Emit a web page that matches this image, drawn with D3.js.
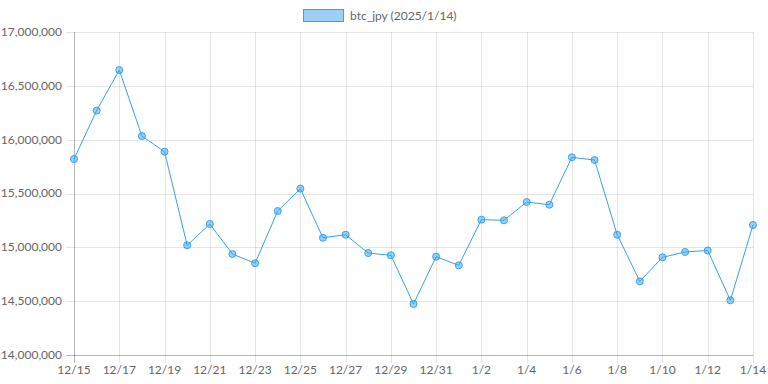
<!DOCTYPE html>
<html>
<head>
<meta charset="utf-8">
<script src="https://cdn.jsdelivr.net/npm/d3@7"></script>
<style>
  body { margin: 0; background: #fff; }
  svg text { font-family: Lato, "Open Sans", sans-serif; }
</style>
</head>
<body>
<div id="chart"></div>
<script>
// data
var dates = ["12/15","12/16","12/17","12/18","12/19","12/20","12/21","12/22","12/23","12/24",
             "12/25","12/26","12/27","12/28","12/29","12/30","12/31","1/1","1/2","1/3",
             "1/4","1/5","1/6","1/7","1/8","1/9","1/10","1/11","1/12","1/13","1/14"];
var prices = [15820000,16270000,16647000,16034000,15888000,15019000,15217000,14938000,14852000,15337000,
              15545000,15089000,15117000,14947000,14926000,14474000,14913000,14833000,15257000,15251000,
              15421000,15396000,15836000,15811000,15117000,14684000,14907000,14957000,14971000,14508000,15207000];
var yTicks = [14000000,14500000,15000000,15500000,16000000,16500000,17000000];
var seriesName = "btc_jpy (2025/1/14)";

var width = 768, height = 384;
var margin = {left:74, right:15, top:32, bottom:29};

var svg = d3.select("#chart").append("svg")
  .attr("width", width)
  .attr("height", height);

var x = d3.scalePoint()
  .domain(dates)
  .range([margin.left, width - margin.right]);

var y = d3.scaleLinear()
  .domain([14000000, 17000000])
  .range([height - margin.bottom, margin.top]);

var fmt = d3.format(",");

// grid lines
var labelDates = dates.filter(function(d, i){ return i % 2 == 0; });

svg.append("g").selectAll("line.hgrid")
  .data(yTicks)
  .enter().append("line")
  .attr("class","hgrid")
  .attr("x1", margin.left - 8)
  .attr("x2", width - margin.right)
  .attr("y1", function(d){ return Math.round(y(d)) + 0.5; })
  .attr("y2", function(d){ return Math.round(y(d)) + 0.5; })
  .attr("stroke", "rgba(0,0,0,0.1)");

svg.append("g").selectAll("line.vgrid")
  .data(labelDates)
  .enter().append("line")
  .attr("class","vgrid")
  .attr("x1", function(d){ return Math.round(x(d)) + 0.5; })
  .attr("x2", function(d){ return Math.round(x(d)) + 0.5; })
  .attr("y1", margin.top)
  .attr("y2", height - margin.bottom + 8)
  .attr("stroke", "rgba(0,0,0,0.1)");

// axis lines
svg.append("line")
  .attr("x1", margin.left + 0.5).attr("x2", margin.left + 0.5)
  .attr("y1", margin.top).attr("y2", height - margin.bottom + 8)
  .attr("stroke", "rgba(0,0,0,0.2)");
svg.append("line")
  .attr("x1", margin.left - 8).attr("x2", width - margin.right)
  .attr("y1", Math.round(y(14000000)) + 0.5).attr("y2", Math.round(y(14000000)) + 0.5)
  .attr("stroke", "rgba(0,0,0,0.2)");

// tick labels
svg.append("g").selectAll("text.ylab")
  .data(yTicks)
  .enter().append("text")
  .attr("class","ylab")
  .attr("x", margin.left - 12)
  .attr("y", function(d){ return y(d); })
  .attr("dy", "0.32em")
  .attr("text-anchor", "end")
  .attr("font-size", 12)
  .attr("fill", "#666")
  .text(function(d){ return fmt(d); });

svg.append("g").selectAll("text.xlab")
  .data(labelDates)
  .enter().append("text")
  .attr("class","xlab")
  .attr("x", function(d){ return x(d); })
  .attr("y", height - margin.bottom + 19)
  .attr("text-anchor", "middle")
  .attr("font-size", 12)
  .attr("fill", "#666")
  .text(function(d){ return d; });

// line
var line = d3.line()
  .x(function(d, i){ return x(dates[i]); })
  .y(function(d){ return y(d); });

svg.append("path")
  .datum(prices)
  .attr("fill", "none")
  .attr("stroke", "#36a2eb")
  .attr("stroke-width", 1)
  .attr("d", line);

svg.append("g").selectAll("circle")
  .data(prices)
  .enter().append("circle")
  .attr("cx", function(d, i){ return x(dates[i]); })
  .attr("cy", function(d){ return y(d); })
  .attr("r", 3.5)
  .attr("fill", "rgba(54,162,235,0.5)")
  .attr("stroke", "#36a2eb")
  .attr("stroke-width", 1);

// legend
var legend = svg.append("g");
legend.append("rect")
  .attr("x", 303.5).attr("y", 9.5)
  .attr("width", 40).attr("height", 12)
  .attr("fill", "rgba(54,162,235,0.5)")
  .attr("stroke", "#36a2eb");
legend.append("text")
  .attr("x", 350).attr("y", 16)
  .attr("dy", "0.32em")
  .attr("font-size", 12)
  .attr("fill", "#666")
  .text(seriesName);
</script>
</body>
</html>
